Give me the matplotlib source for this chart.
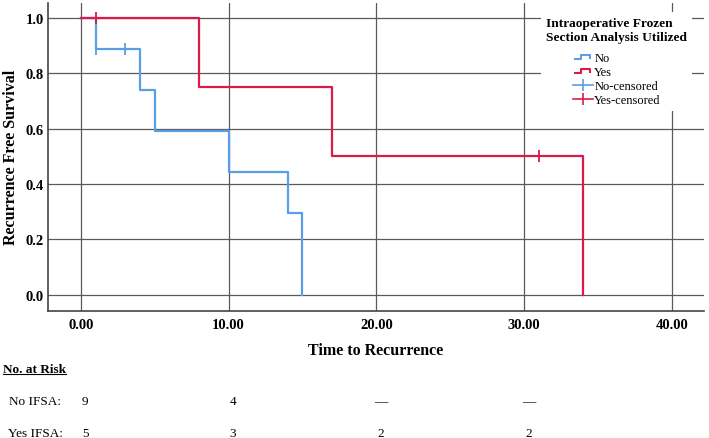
import matplotlib
matplotlib.use("Agg")
import matplotlib.pyplot as plt
from matplotlib.lines import Line2D
from matplotlib.path import Path
from matplotlib.transforms import blended_transform_factory

plt.rcParams['font.family'] = ['Liberation Serif', 'DejaVu Serif']

# Kaplan-Meier steps
no_times = [0, 1, 4, 5, 10, 14, 15]
no_surv = [1.0, 0.889, 0.741, 0.593, 0.444, 0.296, 0.0]
no_cens_t = [1, 3]
no_cens_s = [0.889, 0.889]

yes_times = [0, 8, 17, 34]
yes_surv = [1.0, 0.75, 0.5, 0.0]
yes_cens_t = [1, 31]
yes_cens_s = [1.0, 0.5]

x_ticks = [0, 10, 20, 30, 40]
y_ticks = [0.0, 0.2, 0.4, 0.6, 0.8, 1.0]

# number at risk table
risk_times = [0, 10, 20, 30]
risk_no = ["9", "4", "\u2014", "\u2014"]
risk_yes = ["5", "3", "2", "2"]

blue = '#5b9de6'
red = '#d81b4c'
grid_col = '#5a5a5a'

fig = plt.figure(figsize=(7.09, 4.39), dpi=100)
ax = fig.add_axes([0.068, 0.290, 0.925, 0.701])

ax.step(no_times, no_surv, where='post', color=blue, lw=1.6, zorder=3)
ax.step(yes_times, yes_surv, where='post', color=red, lw=1.6, zorder=4)
ax.plot(no_cens_t, no_cens_s, ls='none', marker='|', ms=8, mew=1.3, color=blue, zorder=3)
ax.plot(yes_cens_t, yes_cens_s, ls='none', marker='|', ms=8, mew=1.3, color=red, zorder=4)

ax.set_xlim(-2.21, 42.18)
ax.set_ylim(-0.058, 1.055)
ax.set_xticks(x_ticks)
ax.set_xticklabels(["%.2f" % t for t in x_ticks])
ax.set_yticks(y_ticks)
ax.set_yticklabels(["%.1f" % v for v in y_ticks])
ax.tick_params(length=0, labelsize=10.5)
ax.tick_params(axis='x', pad=5)
ax.tick_params(axis='y', pad=3)
for lab in ax.get_xticklabels() + ax.get_yticklabels():
    lab.set_fontweight('bold')
ax.grid(True, color=grid_col, lw=0.9)
ax.set_axisbelow(True)
for s in ['top', 'right']:
    ax.spines[s].set_visible(False)
for s in ['left', 'bottom']:
    ax.spines[s].set_color('#444444')
    ax.spines[s].set_linewidth(1.2)

ax.set_xlabel("Time to Recurrence", fontsize=11.5, fontweight='bold', labelpad=8)
ax.set_ylabel("Recurrence Free Survival", fontsize=11.5, fontweight='bold', labelpad=5)

# legend with step shaped handles
step_path = Path([(-1, -0.25), (-0.2, -0.25), (-0.2, 0.25), (0.8, 0.25), (0.8, -0.25)])
handles = [
    Line2D([], [], ls='none', marker=step_path, ms=13, mfc='none', mec=blue, mew=1.5),
    Line2D([], [], ls='none', marker=step_path, ms=13, mfc='none', mec=red, mew=1.5),
    Line2D([], [], color=blue, lw=1.2, marker='|', ms=8, mew=1.2),
    Line2D([], [], color=red, lw=1.2, marker='|', ms=8, mew=1.2),
]
labels = ["No", "Yes", "No-censored", "Yes-censored"]
leg = ax.legend(handles, labels, loc='upper center', bbox_to_anchor=(0.870, 0.985),
                bbox_transform=fig.transFigure, title="Intraoperative Frozen\nSection Analysis Utilized",
                fontsize=9, numpoints=1, handlelength=1.6, handletextpad=0.1,
                labelspacing=0.15, frameon=True, fancybox=False, borderpad=0.4)
leg.get_frame().set_facecolor('white')
leg.get_frame().set_edgecolor('none')
leg.get_frame().set_alpha(1)
leg.get_title().set_fontweight('bold')
leg.get_title().set_fontsize(9.6)
# more room between the title and the entries
leg._legend_box.sep = 7

# number at risk
trans = blended_transform_factory(ax.transData, fig.transFigure)
hdr = fig.text(3 / 709, 1 - 370 / 439, "No. at Risk", fontsize=9.5, fontweight='bold',
               ha='left', va='center')
fig.text(9 / 709, 1 - 402 / 439, "No IFSA:", fontsize=9.5, ha='left', va='center')
fig.text(8 / 709, 1 - 434 / 439, "Yes IFSA:", fontsize=9.5, ha='left', va='center')
for t, a, b in zip(risk_times, risk_no, risk_yes):
    fig.text(t + 0.3, 1 - 402 / 439, a, fontsize=9.5, ha='center', va='center', transform=trans)
    fig.text(t + 0.3, 1 - 434 / 439, b, fontsize=9.5, ha='center', va='center', transform=trans)

# underline the header
fig.canvas.draw()
bb = hdr.get_window_extent().transformed(fig.transFigure.inverted())
fig.add_artist(Line2D([bb.x0, bb.x1], [bb.y0 + 0.002, bb.y0 + 0.002], color='black', lw=0.8,
                      transform=fig.transFigure))

fig.savefig("out.png", dpi=100)
